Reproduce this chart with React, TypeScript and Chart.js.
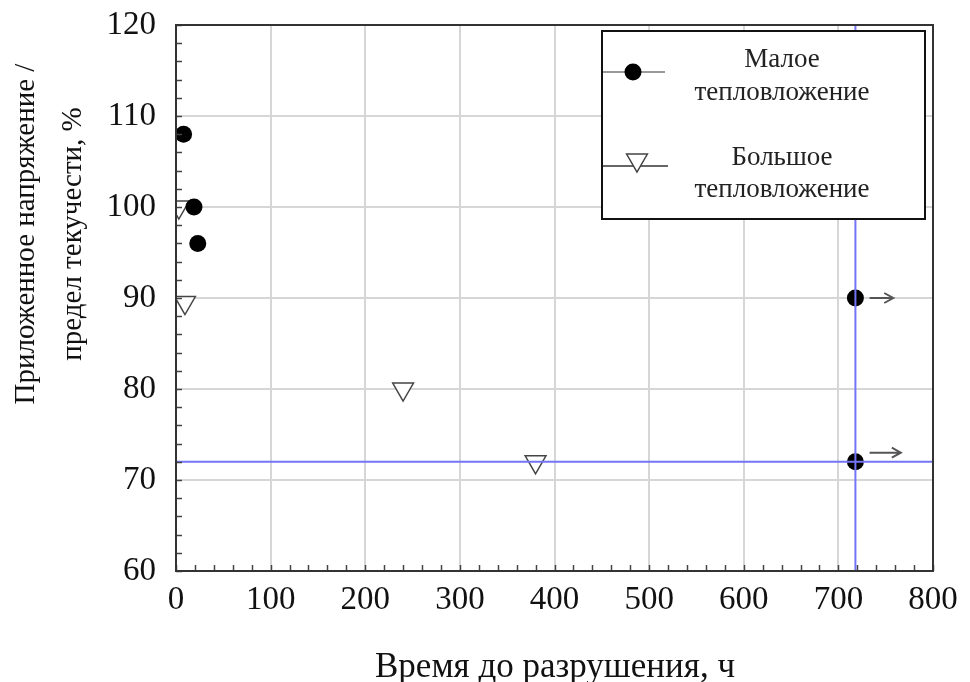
import React, { useEffect, useRef } from "react";
import { Chart, registerables } from "chart.js";

Chart.register(...registerables);

// ---- data ----
const lowHeatX = [8, 19, 23, 718, 718];
const lowHeatY = [108, 100, 96, 90, 72];
const highHeatX = [3, 9.5, 240, 380];
const highHeatY = [100, 89.5, 80, 72];
const refLineY = 72; // horizontal blue line
const refLineX = 718; // vertical blue line
// run-out arrows: [xStart, xEnd, y]
const arrowStartX = [733, 733];
const arrowEndX = [758, 766];
const arrowY = [90, 73];
const xTicks = [0, 100, 200, 300, 400, 500, 600, 700, 800];
const yTicks = [60, 70, 80, 90, 100, 110, 120];
const legendLabels = [["Малое", "тепловложение"], ["Большое", "тепловложение"]];
const yTitle = ["Приложенное напряжение /", "предел текучести, %"];
const xTitle = "Время до разрушения, ч";

const FONT = "'Liberation Serif', 'Times New Roman', serif";
const BLUE = "#7474f6";

const decorPlugin = {
  id: "decor",
  afterDatasetsDraw(chart: any) {
    const ctx = chart.ctx;
    const xs = chart.scales.x;
    const ys = chart.scales.y;
    const a = chart.chartArea;
    ctx.save();
    // minor ticks
    ctx.strokeStyle = "#444";
    ctx.lineWidth = 1.5;
    for (let v = xTicks[0]; v <= xTicks[xTicks.length - 1]; v += 20) {
      const px = Math.round(xs.getPixelForValue(v)) + 0.5;
      ctx.beginPath();
      ctx.moveTo(px, a.bottom);
      ctx.lineTo(px, a.bottom - 6);
      ctx.stroke();
    }
    for (let v = yTicks[0]; v <= yTicks[yTicks.length - 1]; v += 2) {
      const py = Math.round(ys.getPixelForValue(v)) + 0.5;
      ctx.beginPath();
      ctx.moveTo(a.left, py);
      ctx.lineTo(a.left + 6, py);
      ctx.stroke();
    }
    // arrows
    ctx.strokeStyle = "#555";
    ctx.lineWidth = 2;
    for (let i = 0; i < arrowY.length; i++) {
      const x0 = xs.getPixelForValue(arrowStartX[i]);
      const x1 = xs.getPixelForValue(arrowEndX[i]);
      const y = ys.getPixelForValue(arrowY[i]);
      ctx.beginPath();
      ctx.moveTo(x0, y);
      ctx.lineTo(x1, y);
      ctx.moveTo(x1 - 9, y - 5);
      ctx.lineTo(x1, y);
      ctx.lineTo(x1 - 9, y + 5);
      ctx.stroke();
    }
    // frame
    ctx.strokeStyle = "#333";
    ctx.lineWidth = 2;
    ctx.strokeRect(a.left, a.top, a.right - a.left, a.bottom - a.top);
    ctx.restore();
  },
  afterDraw(chart: any) {
    const ctx = chart.ctx;
    ctx.save();
    // legend box
    const lx = 602, ly = 31, lw = 323, lh = 188;
    ctx.fillStyle = "#fff";
    ctx.fillRect(lx, ly, lw, lh);
    ctx.strokeStyle = "#111";
    ctx.lineWidth = 2;
    ctx.strokeRect(lx, ly, lw, lh);
    // item 1
    ctx.strokeStyle = "#999";
    ctx.lineWidth = 2;
    ctx.beginPath();
    ctx.moveTo(lx + 1, 72);
    ctx.lineTo(665, 72);
    ctx.stroke();
    ctx.fillStyle = "#000";
    ctx.beginPath();
    ctx.arc(633, 72, 8.5, 0, Math.PI * 2);
    ctx.fill();
    // item 2
    ctx.strokeStyle = "#666";
    ctx.beginPath();
    ctx.moveTo(lx + 1, 166);
    ctx.lineTo(668, 166);
    ctx.stroke();
    const r = 12;
    const cx = 637, cy = 160;
    ctx.beginPath();
    ctx.moveTo(cx, cy + r);
    ctx.lineTo(cx - r * Math.sin(Math.PI / 3), cy - r / 2);
    ctx.lineTo(cx + r * Math.sin(Math.PI / 3), cy - r / 2);
    ctx.closePath();
    ctx.fillStyle = "#fff";
    ctx.fill();
    ctx.strokeStyle = "#444";
    ctx.lineWidth = 1.5;
    ctx.stroke();
    // legend text
    ctx.fillStyle = "#222";
    ctx.font = `27px ${FONT}`;
    ctx.textAlign = "center";
    ctx.textBaseline = "middle";
    ctx.fillText(legendLabels[0][0], 782, 60);
    ctx.fillText(legendLabels[0][1], 782, 93);
    ctx.fillText(legendLabels[1][0], 782, 158);
    ctx.fillText(legendLabels[1][1], 782, 190);
    // axis titles
    ctx.fillStyle = "#111";
    ctx.font = `35px ${FONT}`;
    ctx.textBaseline = "alphabetic";
    ctx.fillText(xTitle, 555, 677);
    ctx.font = `29px ${FONT}`;
    ctx.textBaseline = "middle";
    ctx.save();
    ctx.translate(26, 234);
    ctx.rotate(-Math.PI / 2);
    ctx.fillText(yTitle[0], 0, 0);
    ctx.restore();
    ctx.save();
    ctx.translate(73, 234);
    ctx.rotate(-Math.PI / 2);
    ctx.fillText(yTitle[1], 0, 0);
    ctx.restore();
    ctx.restore();
  },
};

export default function App() {
  const ref = useRef<HTMLCanvasElement>(null);
  useEffect(() => {
    if (!ref.current) return;
    const chart = new Chart(ref.current, {
      type: "scatter",
      data: {
        datasets: [
          {
            type: "line",
            label: "h",
            data: [
              { x: xTicks[0], y: refLineY },
              { x: xTicks[xTicks.length - 1], y: refLineY },
            ],
            borderColor: BLUE,
            borderWidth: 2,
            pointRadius: 0,
          },
          {
            type: "line",
            label: "v",
            data: [
              { x: refLineX, y: yTicks[0] },
              { x: refLineX, y: yTicks[yTicks.length - 1] },
            ],
            borderColor: BLUE,
            borderWidth: 2,
            pointRadius: 0,
          },
          {
            label: legendLabels[0].join(" "),
            data: lowHeatX.map((x, i) => ({ x, y: lowHeatY[i] })),
            pointStyle: "circle",
            pointRadius: 8.5,
            backgroundColor: "#000",
            borderColor: "#000",
            borderWidth: 0,
          },
          {
            label: legendLabels[1].join(" "),
            data: highHeatX.map((x, i) => ({ x, y: highHeatY[i] })),
            pointStyle: "triangle",
            rotation: 180,
            pointRadius: 12,
            backgroundColor: "#fff",
            borderColor: "#444",
            borderWidth: 1.5,
          },
        ],
      } as any,
      options: {
        responsive: false,
        animation: false,
        devicePixelRatio: 1,
        layout: { padding: { left: 0, top: 25, right: 37, bottom: 0 } },
        plugins: { legend: { display: false }, tooltip: { enabled: false } },
        scales: {
          x: {
            type: "linear",
            min: xTicks[0],
            max: xTicks[xTicks.length - 1],
            afterBuildTicks: (s: any) => {
              s.ticks = xTicks.map((v) => ({ value: v }));
            },
            ticks: { font: { family: FONT, size: 33 }, color: "#111", padding: 10 },
            grid: { color: "#d6d6d6", lineWidth: 2, drawTicks: false },
            border: { display: true, color: "#333", width: 2 },
            afterFit: (s: any) => {
              s.height = 111;
              s.paddingLeft = 0;
              s.paddingRight = 0;
            },
          },
          y: {
            min: yTicks[0],
            max: yTicks[yTicks.length - 1],
            afterBuildTicks: (s: any) => {
              s.ticks = yTicks.map((v) => ({ value: v }));
            },
            ticks: { font: { family: FONT, size: 33 }, color: "#111", padding: 20 },
            grid: { color: "#d6d6d6", lineWidth: 2, drawTicks: false },
            border: { display: true, color: "#333", width: 2 },
            afterFit: (s: any) => {
              s.width = 176;
              s.paddingTop = 0;
              s.paddingBottom = 0;
            },
          },
        },
      } as any,
      plugins: [decorPlugin],
    });
    return () => chart.destroy();
  }, []);
  return (
    <div style={{ position: "absolute", left: 0, top: 0, width: 970, height: 682, background: "#fff" }}>
      <canvas ref={ref} width={970} height={682} style={{ width: 970, height: 682 }} />
    </div>
  );
}
